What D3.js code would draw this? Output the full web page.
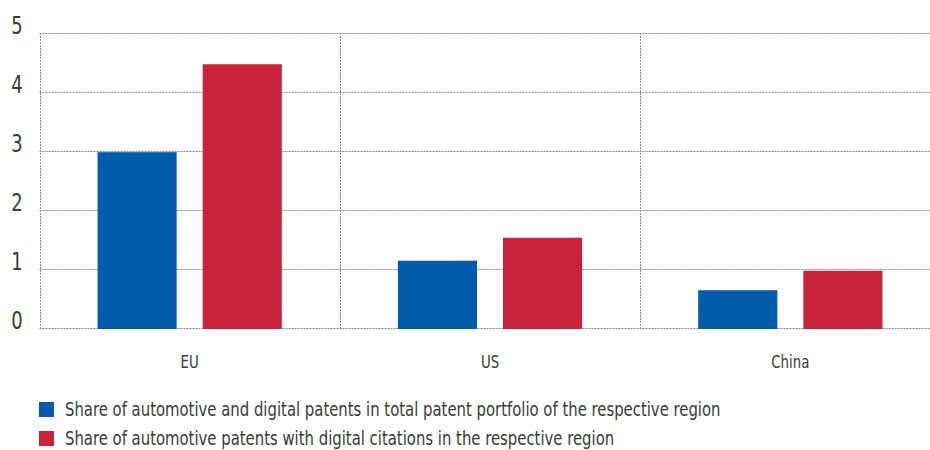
<!DOCTYPE html>
<html>
<head>
<meta charset="utf-8">
<script src="https://cdn.jsdelivr.net/npm/d3@7"></script>
<style>
  html, body { margin: 0; padding: 0; background: #fff; }
  svg text { font-family: "DejaVu Sans Condensed", "Liberation Sans Narrow", sans-serif; fill: #3a3a3a; }
</style>
</head>
<body>
<svg id="chart" width="930" height="450"></svg>
<script>
const regions = ["EU", "US", "China"];
const seriesNames = [
  "Share of automotive and digital patents in total patent portfolio of the respective region",
  "Share of automotive patents with digital citations in the respective region"
];
const portfolioShare = [2.98, 1.14, 0.64];
const citationShare = [4.47, 1.53, 0.97];
const yTicks = [0, 1, 2, 3, 4, 5];
const colors = ["#005baa", "#c8233a"];

const svg = d3.select("#chart");
const plotLeft = 39.5, plotTop = 33, plotBottom = 328, plotRight = 940.5;
const squeeze = 0.87; // narrow the condensed face a little further

const x = d3.scaleBand().domain(regions).range([plotLeft, plotRight]);
const xInner = d3.scaleBand().domain([0, 1]).range([0, x.bandwidth()]).paddingInner(0.2476).paddingOuter(0.552);
const y = d3.scaleLinear().domain([0, 5]).range([plotBottom, plotTop]);

const grid = svg.append("g").attr("stroke", "#8c8c8c").attr("stroke-width", 1).attr("stroke-dasharray", "2,1");

// horizontal gridlines
grid.selectAll("line.h").data(yTicks).join("line")
  .attr("class", "h")
  .attr("x1", plotLeft).attr("x2", 930)
  .attr("y1", d => Math.round(y(d)) + 0.5).attr("y2", d => Math.round(y(d)) + 0.5);

// vertical separators between regions
grid.selectAll("line.v").data([plotLeft, x("US"), x("China")]).join("line")
  .attr("class", "v")
  .attr("x1", d => Math.round(d) + 0.5).attr("x2", d => Math.round(d) + 0.5)
  .attr("y1", plotTop).attr("y2", plotBottom);

// y axis labels
svg.append("g").selectAll("text").data(yTicks).join("text")
  .attr("transform", d => `translate(17, ${y(d) + 1}) scale(0.8, 1)`)
  .attr("text-anchor", "middle")
  .attr("font-size", 25)
  .text(d => d);

// bars
const series = [portfolioShare, citationShare];
series.forEach((vals, si) => {
  svg.append("g").selectAll("rect").data(regions).join("rect")
    .attr("x", d => x(d) + xInner(si))
    .attr("width", xInner.bandwidth())
    .attr("y", (d, i) => y(vals[i]))
    .attr("height", (d, i) => y(0) - y(vals[i]) + 1)
    .attr("fill", colors[si]);
});

// category labels
svg.append("g").selectAll("text").data(regions).join("text")
  .attr("transform", d => `translate(${x(d) + x.bandwidth() / 2}, 368) scale(${squeeze}, 1)`)
  .attr("text-anchor", "middle")
  .attr("font-size", 17)
  .text(d => d);

// legend
const legend = svg.append("g").selectAll("g").data(seriesNames).join("g")
  .attr("transform", (d, i) => `translate(39, ${402 + i * 29})`);
legend.append("rect").attr("width", 15).attr("height", 15).attr("fill", (d, i) => colors[i]);
legend.append("text")
  .attr("transform", `translate(26, 14) scale(${squeeze}, 1)`)
  .attr("font-size", 19)
  .text(d => d);
</script>
</body>
</html>
